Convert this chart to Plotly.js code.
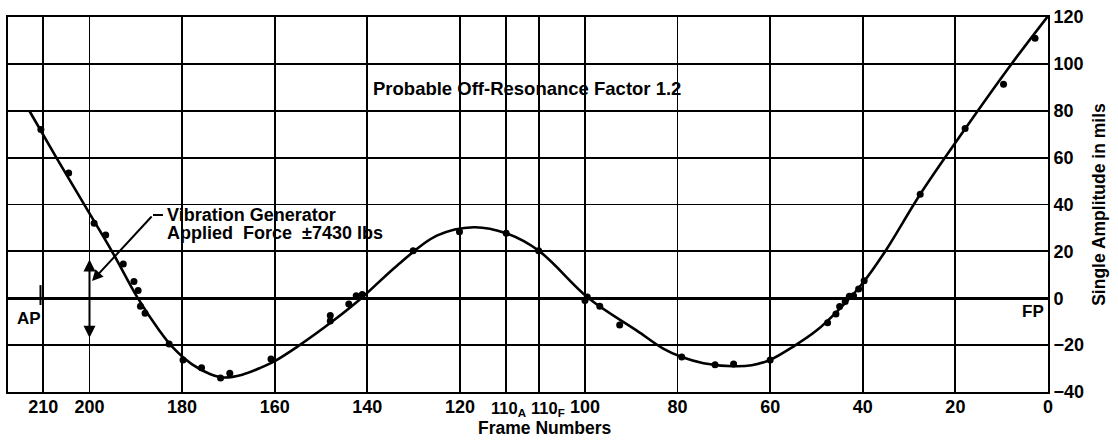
<!DOCTYPE html>
<html>
<head>
<meta charset="utf-8">
<script src="https://cdn.plot.ly/plotly-3.0.1.min.js"></script>
<style>html,body{margin:0;padding:0;background:#fff;}#chart{width:1118px;height:440px;}</style>
</head>
<body>
<div id="chart"></div>
<script>
// Frame 110 is split into 110A (aft side) and 110F (forward side); the axis leaves a gap between them.
const GAP = 7;

// Measured points, aft side (frames 210 .. 110A)
const aftPointFrames = [210.5, 204.5, 199, 196.5, 192.7, 190.4, 189.5, 189, 188, 182.8, 179.8, 175.8, 171.7, 169.7, 160.8, 148, 148, 144, 142.4, 141.1, 130.1, 120.1, 110];
const aftPointAmps   = [72, 53.4, 32, 27, 14.6, 7.1, 3.3, -3.4, -6.4, -19.5, -26.3, -29.7, -34, -32, -25.9, -7.4, -9.7, -2.4, 1.1, 1.6, 20.3, 28.4, 27.7];
// Measured points, forward side (frames 110F .. 0)
const fwdPointFrames = [110, 100, 99.5, 96.8, 92.5, 79.1, 71.9, 67.9, 60, 47.6, 45.8, 45, 43.8, 42.9, 42, 40.9, 39.7, 27.6, 17.9, 9.6, 2.8, 0];
const fwdPointAmps   = [20.3, -1, 0.5, -3.4, -11.4, -25.1, -28.4, -28, -26.3, -10.5, -6.7, -3.5, -1.4, 0.9, 1.1, 4, 7.5, 44.4, 72.4, 91.3, 110.9, 122.6];

// Faired curve, aft side
const aftCurveFrames = [213, 207, 201, 195, 189.7, 185, 182, 178, 174, 171, 167, 163, 160, 155, 147.3, 141.3, 133.6, 125, 117, 110];
const aftCurveAmps   = [80, 59.5, 39.5, 19.5, 0.5, -13.5, -21, -28, -32.3, -33.8, -32.6, -29.6, -26.8, -20.5, -9.5, 0, 13.9, 26.7, 30.3, 27.7];
// Faired curve, forward side
const fwdCurveFrames = [110, 99.2, 88.8, 83, 79.1, 74.4, 68, 64, 60, 55, 50, 45, 40, 35, 27.6, 18, 8.2, 0];
const fwdCurveAmps   = [20.3, 0, -13.8, -21.6, -25.1, -27.7, -29, -28.6, -26.3, -20.6, -13.8, -4.5, 6.5, 20.5, 44.4, 72, 99.1, 120.4];

// Axis ticks
const tickFrames = [210, 200, 180, 160, 140, 120, 110, 110, 100, 80, 60, 40, 20, 0];
const tickSides  = ['A','A','A','A','A','A','A','F','F','F','F','F','F','F'];
const tickLabels = ['210','200','180','160','140','120','110<sub>A</sub>','110<sub>F</sub>','100','80','60','40','20','0'];
const yTicks = [-40, -20, 0, 20, 40, 60, 80, 100, 120];

const pos = (f, side) => side === 'A' ? f + GAP : f;
// the two labels at the split frame sit side by side, so they are placed as notes beside their grid lines
const isSplit = (i) => tickFrames[i] === 110;

const FONT = 'Liberation Sans, Arial, sans-serif';
const NB = '\u00a0';

const curve = {
  x: aftCurveFrames.map(f => pos(f, 'A')).concat(fwdCurveFrames.map(f => pos(f, 'F'))),
  y: aftCurveAmps.concat(fwdCurveAmps),
  mode: 'lines', type: 'scatter',
  line: {color: '#000', width: 2.6, shape: 'spline', smoothing: 1},
  hoverinfo: 'skip', cliponaxis: false
};
const points = {
  x: aftPointFrames.map(f => pos(f, 'A')).concat(fwdPointFrames.map(f => pos(f, 'F'))),
  y: aftPointAmps.concat(fwdPointAmps),
  mode: 'markers', type: 'scatter',
  marker: {color: '#000', size: 7},
  cliponaxis: false
};

const txt = (size) => ({family: FONT, size: size, color: '#000', weight: 'bold'});

const splitLabelNotes = tickLabels.map((t, i) => isSplit(i) ? {
  xref: 'x', yref: 'paper', x: pos(tickFrames[i], tickSides[i]), y: -0.0133,
  xanchor: tickSides[i] === 'A' ? 'right' : 'left', xshift: tickSides[i] === 'A' ? 23 : -10,
  yanchor: 'top', text: t, showarrow: false, font: txt(16.5)
} : null).filter(Boolean);

const layout = {
  width: 1118, height: 440,
  margin: {l: 8, r: 70, t: 17, b: 48},
  paper_bgcolor: '#fff', plot_bgcolor: '#fff',
  showlegend: false,
  xaxis: {
    range: [224.6, 0],
    tickmode: 'array',
    tickvals: tickFrames.map((f, i) => pos(f, tickSides[i])),
    ticktext: tickLabels.map((t, i) => isSplit(i) ? '' : t),
    tickangle: 0,
    tickfont: txt(18),
    ticks: '', ticklabelstandoff: -3,
    showgrid: true, gridcolor: '#000', gridwidth: 1.8,
    zeroline: false,
    showline: true, linecolor: '#000', linewidth: 2, mirror: true,
    fixedrange: true
  },
  yaxis: {
    range: [-40, 120],
    side: 'right',
    tickmode: 'array', tickvals: yTicks,
    tickfont: txt(18),
    ticks: '', ticklabelstandoff: 0,
    showgrid: true, gridcolor: '#000', gridwidth: 1.8,
    zeroline: true, zerolinecolor: '#000', zerolinewidth: 3,
    showline: true, linecolor: '#000', linewidth: 2, mirror: true,
    title: {text: 'Single Amplitude in mils', font: txt(17.5), standoff: 10},
    fixedrange: true
  },
  annotations: splitLabelNotes.concat([
    {xref: 'paper', yref: 'paper', x: 0.4995, y: 0.808, xanchor: 'center', yanchor: 'middle',
     text: 'Probable Off-Resonance Factor 1.2', showarrow: false, font: txt(18.5)},
    {xref: 'paper', yref: 'paper', x: 0.151, y: 0.472, xanchor: 'left', yanchor: 'middle',
     text: 'Vibration' + NB + 'Generator', showarrow: false, font: txt(18)},
    {xref: 'paper', yref: 'paper', x: 0.151, y: 0.424, xanchor: 'left', yanchor: 'middle',
     text: 'Applied' + NB + NB + 'Force' + NB + NB + '±7430' + NB + 'lbs', showarrow: false, font: txt(18)},
    {xref: 'paper', yref: 'paper', x: 0.0202, y: 0.197, xanchor: 'center', yanchor: 'middle',
     text: 'AP', showarrow: false, font: txt(17)},
    {xref: 'paper', yref: 'paper', x: 0.998, y: 0.216, xanchor: 'right', yanchor: 'middle',
     text: 'FP', showarrow: false, font: txt(17)},
    {xref: 'paper', yref: 'paper', x: 0.516, y: -0.096, xanchor: 'center', yanchor: 'middle',
     text: 'Frame' + NB + 'Numbers', showarrow: false, font: txt(17.5)},
    // leader arrow from the note to the force arrow
    {xref: 'paper', yref: 'paper', x: 0.0808, y: 0.296, ax: 61, ay: -66, text: '',
     showarrow: true, arrowhead: 2, arrowsize: 1.1, arrowwidth: 2, arrowcolor: '#000', standoff: 0},
    // double-headed force arrow at frame 200
    {xref: 'x', yref: 'y', x: pos(200, 'A'), y: 16.5, axref: 'x', ayref: 'y', ax: pos(200, 'A'), ay: -17.5,
     text: '', showarrow: true, arrowside: 'end+start', arrowhead: 2, arrowsize: 1.2, arrowwidth: 2,
     arrowcolor: '#000', standoff: 0, startstandoff: 0}
  ]),
  shapes: [
    {type: 'line', xref: 'paper', yref: 'paper', x0: 0.1394, x1: 0.149, y0: 0.472, y1: 0.472,
     line: {color: '#000', width: 2}},
    {type: 'line', xref: 'paper', yref: 'paper', x0: 0.03125, x1: 0.03125, y0: 0.232, y1: 0.285,
     line: {color: '#000', width: 2}}
  ]
};

Plotly.newPlot('chart', [curve, points], layout, {displayModeBar: false, staticPlot: true});
</script>
</body>
</html>
